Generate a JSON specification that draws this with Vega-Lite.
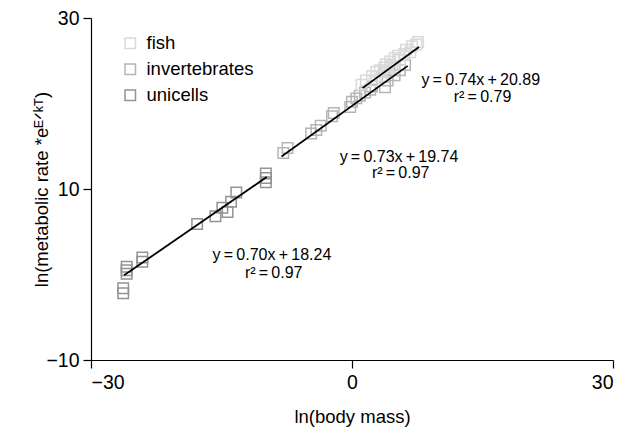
{
  "$schema": "https://vega.github.io/schema/vega-lite/v6.json",
  "width": 522,
  "height": 342,
  "autosize": {"type": "none"},
  "padding": {"left": 91, "top": 18, "right": 14, "bottom": 74},
  "background": "white",
  "config": {
    "font": "Liberation Sans",
    "view": {"stroke": null},
    "axis": {"grid": false, "domainColor": "black", "tickColor": "black", "domainWidth": 1.2, "tickWidth": 1.2, "tickSize": 8, "labelColor": "black", "titleColor": "black", "labelFontSize": 19.5, "titleFontSize": 18.5, "titleFontWeight": "normal", "labelFont": "Liberation Sans", "titleFont": "Liberation Sans"}
  },
  "datasets": {
    "pts": [
      {"x": -25.9, "y": 0.9, "group": "unicells"},
      {"x": -25.9, "y": 0.5, "group": "unicells"},
      {"x": -25.9, "y": 0.1, "group": "unicells"},
      {"x": -26.3, "y": -1.6, "group": "unicells"},
      {"x": -26.3, "y": -2.2, "group": "unicells"},
      {"x": -24.1, "y": 2.0, "group": "unicells"},
      {"x": -24.1, "y": 1.5, "group": "unicells"},
      {"x": -17.8, "y": 5.9, "group": "unicells"},
      {"x": -15.7, "y": 6.8, "group": "unicells"},
      {"x": -14.9, "y": 7.8, "group": "unicells"},
      {"x": -14.3, "y": 7.3, "group": "unicells"},
      {"x": -13.9, "y": 8.5, "group": "unicells"},
      {"x": -13.3, "y": 9.6, "group": "unicells"},
      {"x": -9.9, "y": 11.8, "group": "unicells"},
      {"x": -9.9, "y": 11.3, "group": "unicells"},
      {"x": -9.9, "y": 10.8, "group": "unicells"},
      {"x": -7.9, "y": 14.2, "group": "invertebrates"},
      {"x": -7.4, "y": 14.8, "group": "invertebrates"},
      {"x": -4.7, "y": 16.5, "group": "invertebrates"},
      {"x": -4.1, "y": 16.9, "group": "invertebrates"},
      {"x": -3.6, "y": 17.4, "group": "invertebrates"},
      {"x": -2.3, "y": 18.5, "group": "invertebrates"},
      {"x": -2.1, "y": 18.9, "group": "invertebrates"},
      {"x": -0.2, "y": 19.6, "group": "invertebrates"},
      {"x": 0.0, "y": 20.2, "group": "invertebrates"},
      {"x": 0.5, "y": 20.6, "group": "invertebrates"},
      {"x": 0.9, "y": 20.9, "group": "invertebrates"},
      {"x": 1.5, "y": 21.3, "group": "invertebrates"},
      {"x": 2.1, "y": 21.6, "group": "invertebrates"},
      {"x": 2.3, "y": 22.0, "group": "invertebrates"},
      {"x": 3.8, "y": 21.9, "group": "invertebrates"},
      {"x": 4.1, "y": 22.7, "group": "invertebrates"},
      {"x": 3.7, "y": 23.7, "group": "invertebrates"},
      {"x": 4.9, "y": 23.3, "group": "invertebrates"},
      {"x": 5.5, "y": 23.9, "group": "invertebrates"},
      {"x": 6.1, "y": 24.5, "group": "invertebrates"},
      {"x": 1.1, "y": 22.2, "group": "fish"},
      {"x": 1.6, "y": 22.7, "group": "fish"},
      {"x": 2.3, "y": 23.2, "group": "fish"},
      {"x": 2.8, "y": 23.7, "group": "fish"},
      {"x": 3.2, "y": 23.9, "group": "fish"},
      {"x": 3.7, "y": 24.2, "group": "fish"},
      {"x": 3.9, "y": 24.6, "group": "fish"},
      {"x": 4.4, "y": 24.9, "group": "fish"},
      {"x": 4.6, "y": 24.4, "group": "fish"},
      {"x": 4.9, "y": 25.3, "group": "fish"},
      {"x": 5.3, "y": 25.6, "group": "fish"},
      {"x": 5.5, "y": 25.1, "group": "fish"},
      {"x": 6.0, "y": 25.8, "group": "fish"},
      {"x": 6.2, "y": 26.3, "group": "fish"},
      {"x": 6.7, "y": 26.0, "group": "fish"},
      {"x": 6.9, "y": 26.7, "group": "fish"},
      {"x": 7.4, "y": 26.9, "group": "fish"},
      {"x": 7.6, "y": 27.2, "group": "fish"},
      {"x": 2.6, "y": 22.7, "group": "fish"},
      {"x": 3.4, "y": 23.2, "group": "fish"},
      {"x": 4.1, "y": 23.7, "group": "fish"},
      {"x": 4.8, "y": 24.2, "group": "fish"}
    ],
    "fits": [
      {"x": -26.2, "y": -0.1, "seg": "unicells"},
      {"x": -9.8, "y": 11.4, "seg": "unicells"},
      {"x": -8.1, "y": 13.8, "seg": "invertebrates"},
      {"x": 6.4, "y": 24.4, "seg": "invertebrates"},
      {"x": 1.2, "y": 21.8, "seg": "fish"},
      {"x": 7.7, "y": 26.6, "seg": "fish"}
    ],
    "notes": [
      {"x": -9.2, "y": 2.3, "label": "y\u2009=\u20090.70x\u2009+\u200918.24"},
      {"x": -9.0, "y": 0.2, "label": "r²\u2009=\u20090.97"},
      {"x": 5.4, "y": 13.7, "label": "y\u2009=\u20090.73x\u2009+\u200919.74"},
      {"x": 5.6, "y": 11.9, "label": "r²\u2009=\u20090.97"},
      {"x": 14.8, "y": 22.7, "label": "y\u2009=\u20090.74x\u2009+\u200920.89"},
      {"x": 15.0, "y": 20.8, "label": "r²\u2009=\u20090.79"}
    ]
  },
  "layer": [
    {
      "data": {"name": "pts"},
      "mark": {"type": "point", "shape": "square", "filled": false, "size": 110, "strokeWidth": 1.5, "opacity": 1},
      "encoding": {
        "x": {"field": "x", "type": "quantitative", "scale": {"domain": [-30, 30], "nice": false, "zero": false},
              "axis": {"values": [-30, 0, 30], "title": "ln(body mass)", "titleY": 56, "titleBaseline": "middle", "labelPadding": 5}},
        "y": {"field": "y", "type": "quantitative", "scale": {"domain": [-10, 30], "nice": false, "zero": false},
              "axis": {"values": [-10, 10, 30], "title": "ln(metabolic rate *eᴱᐟᵏᵀ)", "titleX": -50, "titleY": 171, "titleAngle": -90, "titleAlign": "center", "titleBaseline": "middle", "labelPadding": 4}},
        "color": {"field": "group", "type": "nominal",
                  "scale": {"domain": ["fish", "invertebrates", "unicells"], "range": ["#d9d9d9", "#b5b5b5", "#939393"]},
                  "legend": {"title": null, "orient": "none", "legendX": 30, "legendY": 16, "labelFontSize": 18.5, "labelFont": "Liberation Sans", "labelColor": "black", "symbolType": "square", "symbolSize": 110, "symbolStrokeWidth": 1.5, "rowPadding": 7, "labelOffset": 7}}
      }
    },
    {
      "data": {"name": "fits"},
      "mark": {"type": "line", "color": "black", "strokeWidth": 1.8},
      "encoding": {
        "x": {"field": "x", "type": "quantitative"},
        "y": {"field": "y", "type": "quantitative"},
        "detail": {"field": "seg", "type": "nominal"}
      }
    },
    {
      "data": {"name": "notes"},
      "mark": {"type": "text", "fontSize": 16, "font": "Liberation Sans", "color": "black", "align": "center", "baseline": "middle"},
      "encoding": {
        "x": {"field": "x", "type": "quantitative"},
        "y": {"field": "y", "type": "quantitative"},
        "text": {"field": "label"}
      }
    }
  ]
}
